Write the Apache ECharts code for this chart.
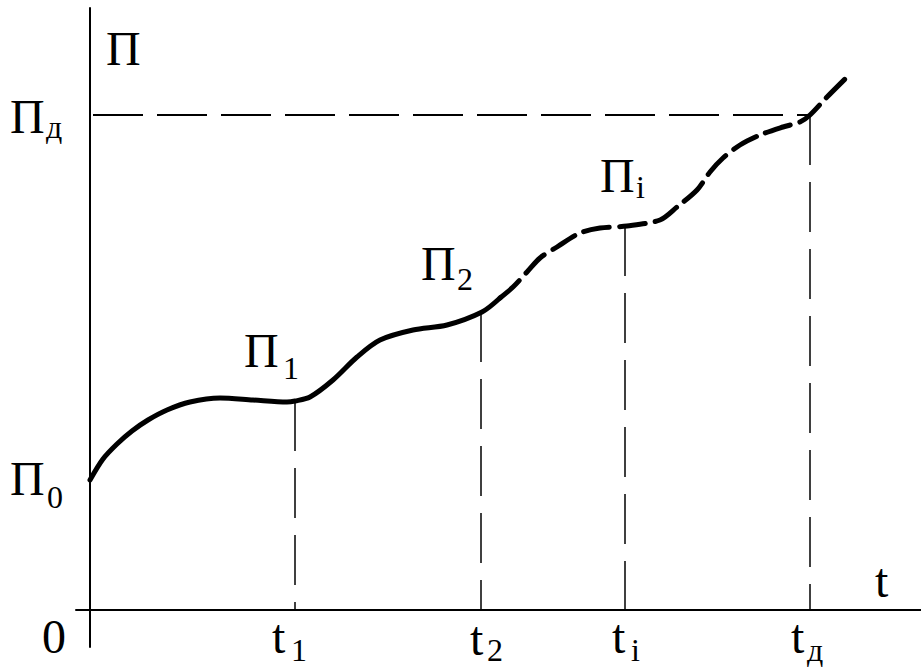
<!DOCTYPE html>
<html>
<head>
<meta charset="utf-8">
<script src="https://cdn.jsdelivr.net/npm/echarts@6/dist/echarts.min.js"></script>
<style>html,body{margin:0;padding:0;background:#fff}#c{width:921px;height:668px}</style>
</head>
<body>
<div id="c"></div>
<script>
// Curve values (t, П) in arbitrary units
const curveSolid = [[0,130],[13,151],[27,166],[42,179],[58,190],[77,200],[100,208],[130,212],[163,210],[197,208],[205,209],[220,213],[243,230],[267,253],[290,270],[323,280],[357,285],[392,298],[410,312]];
const curveDashed = [[410,312],[423,323],[437,338],[450,352],[467,363],[490,377],[510,382],[537,384],[570,390],[587,403],[607,420],[620,438],[633,452],[650,465],[670,475],[693,483],[710,488],[720,495],[737,513],[755,531]];
// Marked moments t1, t2, ti, tд and the corresponding П values
const markT = [205, 391, 535, 720];
const markP = [209, 298, 384, 495];
const markNames = ['1', '2', 'i', 'д'];
const axisNames = ['П', 't', '0'];

const FAMILY = "'Liberation Serif', 'DejaVu Serif', serif";
const chart = echarts.init(document.getElementById('c'), null, {renderer: 'svg'});

const guideSeries = markT.map((t, i) => ({
  type: 'line', data: [[t, markP[i]], [t, 0]], symbol: 'none', silent: true, z: 1,
  lineStyle: {color: '#000', width: 1.5, type: [50, 17]}
}));

function txt(x, y, s, size) {
  return {type: 'text', x: x, y: y, silent: true,
    style: {text: s, font: size + 'px ' + FAMILY, fill: '#000', textAlign: 'left', textVerticalAlign: 'middle'}};
}

const graphics = [
  txt(106, 48, axisNames[0], 48),
  txt(875, 580, axisNames[1], 48),
  txt(42, 636, axisNames[2], 48),
  // П0
  txt(10, 478, 'П', 48), txt(47, 497, '0', 32),
  // Пд
  txt(10, 116, 'П', 48), txt(46, 127, markNames[3], 32),
  // П1
  txt(244, 350, 'П', 48), txt(283, 368, markNames[0], 32),
  // П2
  txt(421, 263, 'П', 48), txt(457, 279, markNames[1], 32),
  // Пi
  txt(600, 175, 'П', 48), txt(636, 187, markNames[2], 32),
  // t labels
  txt(272, 636, 't', 48), txt(291, 650, markNames[0], 32),
  txt(470, 638, 't', 48), txt(487, 650, markNames[1], 32),
  txt(612, 636, 't', 48), txt(631, 650, markNames[2], 32),
  txt(791, 636, 't', 48), txt(807, 650, markNames[3], 32)
];

chart.setOption({
  animation: false,
  backgroundColor: '#fff',
  grid: {left: 76, right: 0, top: 8, bottom: 21},
  xAxis: {type: 'value', min: -14, max: 831,
    axisLine: {show: true, onZero: true, lineStyle: {color: '#000', width: 2}},
    axisTick: {show: false}, axisLabel: {show: false}, splitLine: {show: false}},
  yAxis: {type: 'value', min: -37, max: 602,
    axisLine: {show: true, onZero: true, lineStyle: {color: '#000', width: 2}},
    axisTick: {show: false}, axisLabel: {show: false}, splitLine: {show: false}},
  series: [
    ...guideSeries,
    {type: 'line', data: [[3, markP[3]], [markT[3], markP[3]]], symbol: 'none', silent: true, z: 1,
      lineStyle: {color: '#000', width: 2, type: [50, 14]}},
    {type: 'line', data: curveSolid, smooth: 0.3, symbol: 'none', z: 3,
      lineStyle: {color: '#000', width: 5, cap: 'round', join: 'round'}},
    {type: 'line', data: curveDashed, smooth: 0.3, symbol: 'none', z: 3,
      lineStyle: {color: '#000', width: 5, type: [26, 10], cap: 'round'}}
  ],
  graphic: graphics
});
</script>
</body>
</html>
